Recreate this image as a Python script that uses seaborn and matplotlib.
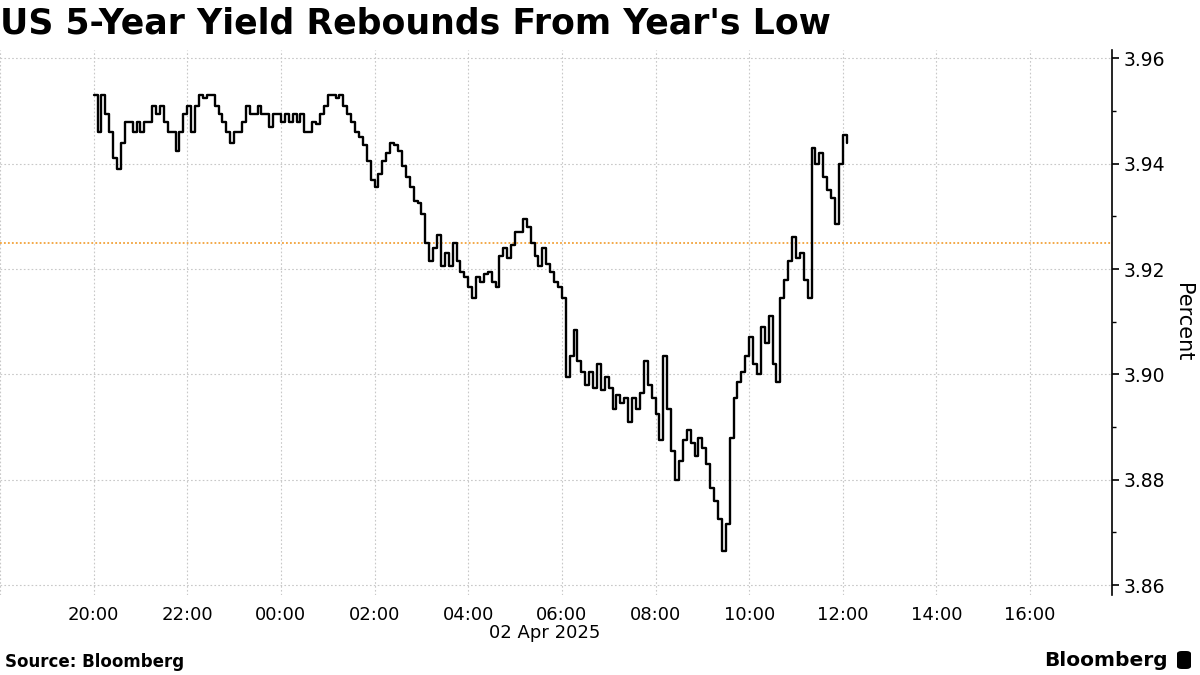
import matplotlib
matplotlib.use("Agg")
import pandas as pd
import matplotlib.pyplot as plt
from matplotlib.patches import FancyBboxPatch
import seaborn as sns

# ---------------- Data (5-minute steps from 01 Apr 2025 20:00) ---------------- #
start_time = "2025-04-01 20:00"

yield_evening = [  # 20:00 - 23:55
    3.953, 3.946, 3.953, 3.9495, 3.946, 3.941, 3.939, 3.944, 3.948, 3.948,
    3.946, 3.948, 3.946, 3.948, 3.948, 3.951, 3.9495, 3.951, 3.948, 3.946,
    3.946, 3.9425, 3.946, 3.9495, 3.951, 3.946, 3.951, 3.953, 3.9525, 3.953,
    3.953, 3.951, 3.9495, 3.948, 3.946, 3.944, 3.946, 3.946, 3.948, 3.951,
    3.9495, 3.9495, 3.951, 3.9495, 3.9495, 3.947, 3.9495, 3.9495,
]
yield_overnight = [  # 00:00 - 03:55
    3.948, 3.9495, 3.948, 3.9495, 3.948, 3.9495, 3.946, 3.946, 3.948, 3.9476,
    3.9495, 3.951, 3.953, 3.953, 3.9525, 3.953, 3.951, 3.9495, 3.948, 3.946,
    3.945, 3.9435, 3.9405, 3.937, 3.9355, 3.938, 3.9405, 3.942, 3.944, 3.9435,
    3.9425, 3.9395, 3.9375, 3.9355, 3.933, 3.9325, 3.9305, 3.925, 3.9215, 3.924,
    3.9265, 3.9205, 3.923, 3.9205, 3.925, 3.9215, 3.9195, 3.9185,
]
yield_early = [  # 04:00 - 07:55
    3.9165, 3.9145, 3.9185, 3.9175, 3.919, 3.9195, 3.9175, 3.9165, 3.9225, 3.924,
    3.922, 3.9245, 3.927, 3.927, 3.9295, 3.928, 3.925, 3.9225, 3.9205, 3.924,
    3.921, 3.9195, 3.9175, 3.9165, 3.9145, 3.8995, 3.9035, 3.9085, 3.9025, 3.9005,
    3.898, 3.9005, 3.8975, 3.902, 3.897, 3.8995, 3.8975, 3.8935, 3.896, 3.8945,
    3.8955, 3.891, 3.8955, 3.8935, 3.8965, 3.9025, 3.898, 3.8955,
]
yield_morning = [  # 08:00 - 12:05
    3.8925, 3.8875, 3.9035, 3.8935, 3.8855, 3.880, 3.8835, 3.8875, 3.8895, 3.887,
    3.8845, 3.888, 3.886, 3.883, 3.8785, 3.876, 3.8725, 3.8665, 3.8715, 3.888,
    3.8955, 3.8985, 3.9005, 3.9035, 3.907, 3.902, 3.900, 3.909, 3.906, 3.911,
    3.902, 3.8985, 3.9145, 3.918, 3.9215, 3.926, 3.922, 3.923, 3.918, 3.9145,
    3.943, 3.940, 3.942, 3.9375, 3.935, 3.9335, 3.9285, 3.940, 3.9455, 3.944,
]

ref_level = 3.925  # year's low marker

x_ticks = ["2025-04-01 20:00", "2025-04-01 22:00", "2025-04-02 00:00", "2025-04-02 02:00",
           "2025-04-02 04:00", "2025-04-02 06:00", "2025-04-02 08:00", "2025-04-02 10:00",
           "2025-04-02 12:00", "2025-04-02 14:00", "2025-04-02 16:00"]
x_labels = ["20:00", "22:00", "00:00", "02:00", "04:00", "06:00",
            "08:00", "10:00", "12:00", "14:00", "16:00"]
y_ticks = [3.86, 3.88, 3.90, 3.92, 3.94, 3.96]
y_minor = [3.87, 3.89, 3.91, 3.93, 3.95]

yields = yield_evening + yield_overnight + yield_early + yield_morning
times = pd.date_range(start_time, periods=len(yields), freq="5min")
df = pd.DataFrame({"time": times, "yield": yields})

# ---------------- Plot ---------------- #
sns.set_theme(style="white")
plt.rcParams["font.family"] = ["DejaVu Sans"]
plt.rcParams["text.color"] = "black"
plt.rcParams["axes.labelcolor"] = "black"
plt.rcParams["xtick.color"] = "black"
plt.rcParams["ytick.color"] = "black"

fig = plt.figure(figsize=(12, 6.75), dpi=100)
ax = fig.add_axes([0.0, 0.1185, 0.9267, 0.8075])

grid_kw = dict(color="#c8c8c8", ls=(0, (1.5, 2)), lw=0.8, zorder=0)
for t in x_ticks + ["2025-04-01 18:00"]:
    ax.axvline(pd.Timestamp(t), **grid_kw)
for v in y_ticks:
    ax.axhline(v, **grid_kw)

ax.axhline(ref_level, color="#f2a23a", ls=(0, (1, 1.2)), lw=1.3, zorder=1)

sns.lineplot(data=df, x="time", y="yield", drawstyle="steps-post",
             color="black", lw=1.7, ax=ax, zorder=3)

ax.set_xlim(pd.Timestamp("2025-04-01 18:00"), pd.Timestamp("2025-04-02 17:45"))
ax.set_ylim(3.8581, 3.9616)

ax.set_xticks([pd.Timestamp(t) for t in x_ticks])
ax.set_xticklabels(x_labels)
ax.tick_params(axis="x", length=3, color="#c8c8c8", labelcolor="black",
               labelsize=13, pad=5)

ax.yaxis.tick_right()
ax.yaxis.set_label_position("right")
ax.set_yticks(y_ticks)
ax.set_yticklabels([f"{v:.2f}" for v in y_ticks])
ax.set_yticks(y_minor, minor=True)
ax.tick_params(axis="y", which="major", direction="out", length=5, width=1.2,
               color="black", labelsize=13.5, pad=3)
ax.tick_params(axis="y", which="minor", direction="out", length=3, width=1,
               color="black", right=True, left=False)
ax.set_ylabel("Percent", rotation=270, fontsize=15, labelpad=20)
ax.set_xlabel("")

for side in ["left", "top", "bottom"]:
    ax.spines[side].set_visible(False)
ax.spines["right"].set_color("black")
ax.spines["right"].set_linewidth(1.2)

# ---------------- Text ---------------- #
fig.text(0.0, 0.965, "US 5-Year Yield Rebounds From Year's Low",
         fontsize=25, fontweight="bold", ha="left", va="center")
fig.text(545 / 1200, 1 - 633 / 675, "02 Apr 2025", fontsize=13, ha="center", va="center")
fig.text(0.004, 1 - 662 / 675, "Source: Bloomberg", fontsize=12, fontweight="bold",
         ha="left", va="center")
fig.text(1168 / 1200, 1 - 660 / 675, "Bloomberg", fontsize=14.5, fontweight="bold",
         ha="right", va="center")
fig.patches.append(FancyBboxPatch((1177 / 1200, 1 - 669 / 675), 14 / 1200, 18 / 675,
                                  boxstyle="round,pad=0,rounding_size=0.004",
                                  transform=fig.transFigure, facecolor="black",
                                  edgecolor="none"))

fig.savefig("out.png", dpi=100)
